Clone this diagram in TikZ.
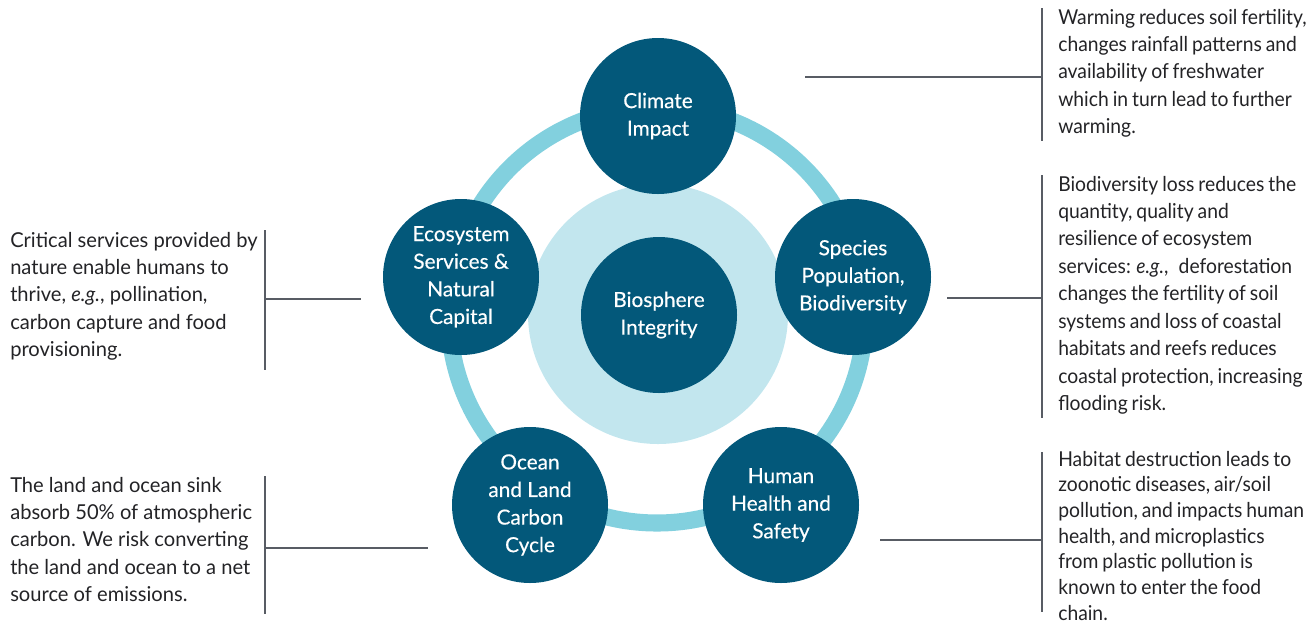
\documentclass[tikz,border=0pt]{standalone}
\usepackage{fontspec}
\setmainfont{Lato}
\newfontfamily\leftfont{Lato}[FakeStretch=0.98]
\newfontfamily\rightfont{Lato}[FakeStretch=0.94,WordSpace=0.8]
\newfontfamily\bubfont{Lato}[FakeBold=0.35]
\definecolor{bubteal}{RGB}{3,88,122}
\definecolor{ringblue}{RGB}{130,208,222}
\definecolor{paleblue}{RGB}{194,230,238}
\definecolor{linegray}{RGB}{88,92,100}
\definecolor{bodytext}{RGB}{35,35,38}
\begin{document}
\begin{tikzpicture}[x=0.75pt,y=-0.75pt,
  bub/.style={circle, fill=bubteal, minimum size=117pt, inner sep=0pt, text=white, align=center,
    font=\bubfont\fontsize{15.6}{20.7}\selectfont},
  desc/.style={anchor=base west, inner sep=0pt, text=bodytext},
  ldesc/.style={desc, font=\leftfont\fontsize{15.4}{20.5}\selectfont},
  rdesc/.style={desc, font=\rightfont\fontsize{15.4}{20.6}\selectfont},
  conn/.style={draw=linegray, line width=1.5pt}]
\useasboundingbox (0,0) rectangle (1314,626);
% ring and pale disc
\draw[ringblue, line width=12.8pt] (657,315) circle[radius=208];
\fill[paleblue] (658,314) circle[radius=130];
% bubbles
\node[bub] (bio) at (659,315) {Biosphere\\Integrity};
\node[bub] (clim) at (658,116) {Climate\\Impact};
\node[bub] (eco) at (461,277) {\raisebox{-4pt}{\begin{tabular}{@{}c@{}}Ecosystem\\Services \&\\Natural\\Capital\end{tabular}}};
\node[bub] (spec) at (853,277) {Species\\Population,\\Biodiversity};
\node[bub] (ocean) at (530,505) {Ocean\\and Land\\Carbon\\Cycle};
\node[bub] (human) at (781,505) {Human\\Health and\\Safety};
% descriptions
\node[rdesc] (dclim) at (1058,24) {\begin{tabular}[t]{@{}l@{}}Warming reduces soil fertility,\\changes rainfall patterns and\\availability of freshwater\\which in turn lead to further\\warming.\end{tabular}};
\node[rdesc] (dspec) at (1058,191) {\begin{tabular}[t]{@{}l@{}}Biodiversity loss reduces the\\quantity, quality and\\resilience of ecosystem\\services: \emph{e.g.},\enspace deforestation\\changes the fertility of soil\\systems and loss of coastal\\habitats and reefs reduces\\coastal protection, increasing\\flooding risk.\end{tabular}};
\node[rdesc, font=\rightfont\fontsize{15.4}{19.3}\selectfont] (dhuman) at (1058,466) {\begin{tabular}[t]{@{}l@{}}Habitat destruction leads to\\zoonotic diseases, air/soil\\pollution, and impacts human\\health, and microplastics\\from plastic pollution is\\known to enter the food\\chain.\end{tabular}};
\node[ldesc] (deco) at (10,247) {\begin{tabular}[t]{@{}l@{}}Critical services provided by\\nature enable humans to\\thrive, \emph{e.g.}, pollination,\\carbon capture and food\\provisioning.\end{tabular}};
\node[ldesc] (docean) at (10,492) {\begin{tabular}[t]{@{}l@{}}The land and ocean sink\\absorb 50\% of atmospheric\\carbon. We risk converting\\the land and ocean to a net\\source of emissions.\end{tabular}};
% bracket coordinates
\coordinate (b1t) at (1042,8);   \coordinate (b1b) at (1042,141); \coordinate (b1m) at (1042,77);  \coordinate (e1) at (805,77);
\coordinate (b2t) at (1042,175); \coordinate (b2b) at (1042,418); \coordinate (b2m) at (1042,298); \coordinate (e2) at (947,298);
\coordinate (b3t) at (1042,452); \coordinate (b3b) at (1042,612); \coordinate (b3m) at (1042,540); \coordinate (e3) at (880,540);
\coordinate (b4t) at (265,230);  \coordinate (b4b) at (265,370);  \coordinate (b4m) at (265,299);  \coordinate (e4) at (361,299);
\coordinate (b5t) at (265,476);  \coordinate (b5b) at (265,614);  \coordinate (b5m) at (265,548);  \coordinate (e5) at (428,548);
\foreach \i in {1,...,5}{
  \draw[conn] (b\i t) -- (b\i b);
  \draw[conn] (b\i m) -- (e\i);
}
\end{tikzpicture}
\end{document}
